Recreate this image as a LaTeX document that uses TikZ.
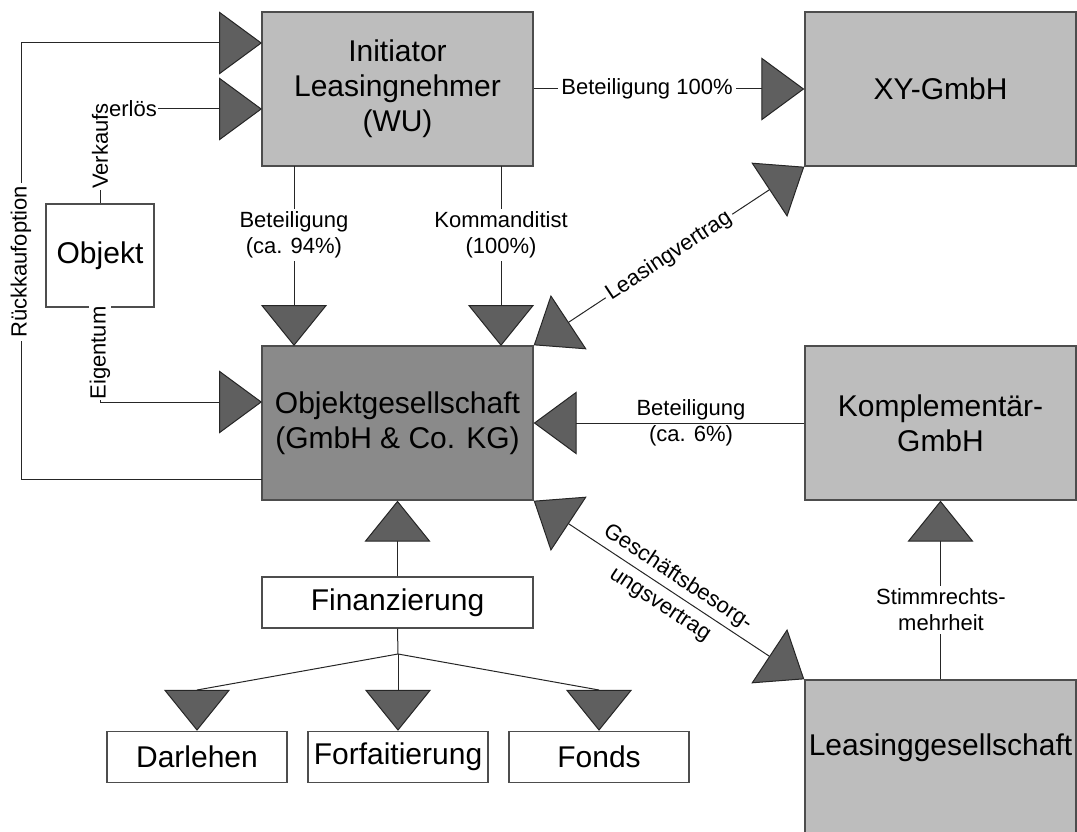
\documentclass[tikz,border=0pt]{standalone}
\usepackage{fontspec}
\setmainfont{Liberation Sans}
\usetikzlibrary{arrows.meta}

\definecolor{boxlight}{HTML}{BDBDBD}
\definecolor{boxdark}{HTML}{8A8A8A}
\definecolor{tipfill}{HTML}{5F5F5F}
\definecolor{edgegray}{HTML}{4D4D4D}
\definecolor{wire}{HTML}{262626}

\newcommand\fsmain{\fontsize{30}{35}\selectfont}
\newcommand\fslabel{\fontsize{22}{26}\selectfont}
\newcommand\fslabelwide{\fontsize{22}{32}\selectfont}

\tikzset{
  TriV/.tip={Triangle[length=41pt,width=66pt,fill=tipfill]},
  TriH/.tip={Triangle[length=43pt,width=63pt,fill=tipfill]},
  TriD/.tip={Triangle[length=42pt,width=65pt,fill=tipfill]},
  box/.style={draw=edgegray, line width=1.4pt, inner sep=2pt, align=center, font=\fsmain},
  gbox/.style={box, fill=boxlight},
  obox/.style={box, fill=boxdark},
  wbox/.style={box, fill=white},
  lbl/.style={font=\fslabel, align=center, fill=white, inner sep=3pt},
  conn/.style={draw=wire, line width=1pt},
  arrH/.style={conn, -TriH},
  arrV/.style={conn, -TriV},
  arrD/.style={conn, TriD-TriD},
}

\begin{document}
\begin{tikzpicture}[x=1pt,y=-1pt]
\useasboundingbox (0,0) rectangle (1077,832);

% main entities
\node[gbox, minimum width=271pt, minimum height=154pt] (init) at (397.5,89) {Initiator\\Leasingnehmer\\(WU)};
\node[gbox, minimum width=271pt, minimum height=154pt] (xy) at (940.5,89) {XY-GmbH};
\node[obox, minimum width=271pt, minimum height=154pt] (og) at (397.5,423) {Objektgesellschaft\\(GmbH \& Co. KG)};
\node[gbox, minimum width=271pt, minimum height=154pt] (kompl) at (940.5,423) {Komplementär-\\GmbH};
\node[gbox, minimum width=271pt, minimum height=160pt, text height=22pt, text depth=32pt] (leas) at (940.5,760) {Leasinggesellschaft};
\node[wbox, minimum width=108pt, minimum height=103pt] (objekt) at (100,255.5) {Objekt};

% financing
\node[wbox, minimum width=271pt, minimum height=51pt] (fin) at (397.5,602.5) {Finanzierung};
\node[wbox, minimum width=180pt, minimum height=51pt] (darl) at (197,757) {Darlehen};
\node[wbox, minimum width=180pt, minimum height=51pt] (forf) at (398,757) {Forfaitierung};
\node[wbox, minimum width=180pt, minimum height=51pt] (fonds) at (599,757) {Fonds};

% routing points
\coordinate (iA) at (262,43);
\coordinate (iB) at (262,109);
\coordinate (ogR) at (262,479);
\coordinate (rk1) at (21,479);
\coordinate (rk2) at (21,43);
\coordinate (vkC) at (100,109);
\coordinate (egC) at (100,402);
\coordinate (ogE) at (262,402);
\coordinate (i94) at (294,166);
\coordinate (o94) at (294,346);
\coordinate (i100) at (501,166);
\coordinate (o100) at (501,346);
\coordinate (junc) at (398,654);
\coordinate (dTop) at (197,690);
\coordinate (nTop) at (599,690);

% connectors
\draw[arrH] (ogR) -- (rk1) -- (rk2) -- (iA);
\draw[arrH] (objekt.north) -- (vkC) -- (iB);
\draw[arrH] (objekt.south) -- (egC) -- (ogE);
\draw[arrH] (init.east) -- (xy.west);
\draw[arrV] (i94) -- (o94);
\draw[arrV] (i100) -- (o100);
\draw[arrD] (og.north east) -- (xy.south west);
\draw[arrH] (kompl.west) -- (og.east);
\draw[arrV] (fin.north) -- (og.south);
\draw[arrD] (og.south east) -- (leas.north west);
\draw[arrV] (leas.north) -- (kompl.south);
\draw[conn] (fin.south) -- (junc);
\draw[conn] (junc) -- (dTop);
\draw[arrV] (dTop) -- (darl.north);
\draw[arrV] (junc) -- (forf.north);
\draw[conn] (junc) -- (nTop);
\draw[arrV] (nTop) -- (fonds.north);

% connector labels
\node[lbl, rotate=90] (lRk) at (21,262) {Rückkaufoption};
\node[lbl, rotate=90, inner sep=1pt] (lVk) at (100,146) {Verkaufs};
\node[lbl, inner sep=1pt] (lEr) at (133,109) {erlös};
\node[lbl, rotate=90, inner sep=1pt] (lEg) at (100,353) {Eigentum};
\node[lbl] (l100) at (647,89) {Beteiligung 100\%};
\node[lbl] (l94) at (294,235) {Beteiligung\\(ca. 94\%)};
\node[lbl] (lKd) at (501,235) {Kommanditist\\(100\%)};
\node[lbl, rotate=33.5] (lLv) at (669,256) {Leasingvertrag};
\node[lbl, fill=none] (l6) at (691,423) {Beteiligung\\(ca. 6\%)};
\node[lbl, fill=none, font=\fslabelwide, rotate=-33.5] (lGb) at (669,591) {Geschäftsbesorg-\\ungsvertrag};
\node[lbl] (lSt) at (941,610) {Stimmrechts-\\mehrheit};
\end{tikzpicture}
\end{document}
